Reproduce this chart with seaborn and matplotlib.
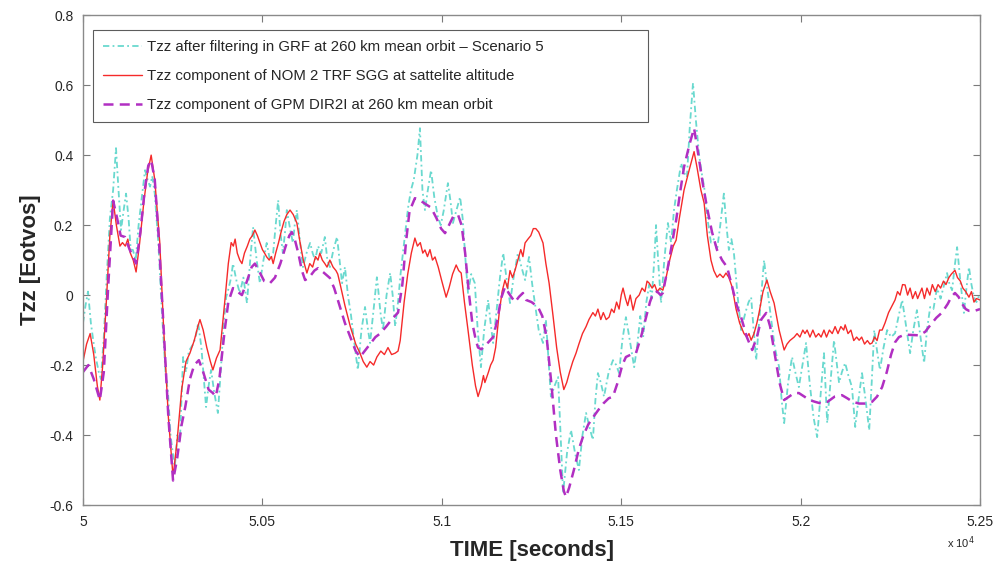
import numpy as np
import pandas as pd
import matplotlib
matplotlib.use("Agg")
import matplotlib.pyplot as plt
import seaborn as sns

T0 = 50000

# Tzz after filtering in GRF (Scenario 5) - time offsets [s] and values [Eotvos]
grf_t = [0, 7, 14, 22, 30, 36, 44, 50, 58, 66, 75, 84, 92, 99, 106, 113, 120, 127, 133, 139,
         147, 155, 164, 173, 180, 187, 193, 200, 210, 220, 230, 237, 244, 250, 256, 263, 270, 279, 287, 295,
         307, 314, 321, 330, 337, 343, 350, 357, 366, 376, 385, 392, 399, 406, 413, 418, 428, 437, 447, 457,
         466, 474, 484, 493, 503, 512, 521, 530, 537, 544, 550, 557, 563, 568, 577, 585, 590, 596, 605, 613,
         623, 633, 640, 647, 655, 664, 674, 681, 688, 698, 708, 715, 722, 730, 739, 746, 752, 759, 766, 776,
         786, 793, 800, 810, 819, 822, 829, 836, 846, 856, 863, 870, 878, 885, 895, 906, 914, 922, 932, 939,
         946, 953, 961, 970, 979, 989, 997, 1005, 1017, 1024, 1031, 1040, 1051, 1058, 1066, 1073, 1082, 1092, 1100, 1109,
         1118, 1129, 1136, 1143, 1152, 1162, 1171, 1180, 1190, 1200, 1212, 1222, 1232, 1243, 1252, 1262, 1270, 1282, 1290, 1297,
         1304, 1314, 1324, 1331, 1338, 1349, 1360, 1371, 1382, 1392, 1402, 1412, 1421, 1428, 1435, 1443, 1452, 1465, 1477, 1486,
         1494, 1503, 1513, 1524, 1536, 1545, 1553, 1561, 1570, 1578, 1585, 1592, 1597, 1604, 1611, 1620, 1630, 1639, 1647, 1655,
         1667, 1675, 1683, 1691, 1700, 1708, 1717, 1724, 1731, 1740, 1750, 1758, 1767, 1776, 1786, 1793, 1800, 1807, 1814, 1824,
         1834, 1846, 1855, 1862, 1869, 1876, 1887, 1898, 1907, 1917, 1928, 1940, 1947, 1954, 1965, 1976, 1985, 1995, 2005, 2015,
         2025, 2036, 2046, 2056, 2065, 2074, 2083, 2093, 2100, 2107, 2115, 2124, 2133, 2143, 2152, 2161, 2171, 2181, 2191, 2198,
         2205, 2213, 2221, 2231, 2241, 2252, 2263, 2273, 2283, 2294, 2305, 2314, 2324, 2334, 2344, 2352, 2361, 2370, 2380, 2390,
         2400, 2408, 2415, 2422, 2429, 2436, 2445, 2455, 2462, 2469, 2476, 2483, 2490, 2500]
grf_v = [-0.08, -0.03, 0.01, -0.08, -0.14, -0.18, -0.22, -0.24, -0.12, 0.05, 0.22, 0.30, 0.42, 0.30, 0.186, 0.24, 0.29, 0.22, 0.13, 0.129,
         0.10, 0.20, 0.28, 0.357, 0.33, 0.31, 0.34, 0.29, 0.15, -0.05, -0.22, -0.28, -0.40, -0.45, -0.49, -0.40, -0.42, -0.177, -0.22, -0.16,
         -0.14, -0.12, -0.08, -0.15, -0.24, -0.32, -0.26, -0.214, -0.28, -0.337, -0.20, -0.08, -0.006, 0.02, 0.051, 0.09, 0.04, 0.006, 0.05, -0.023,
         0.10, 0.194, 0.10, 0.034, 0.10, 0.149, 0.10, 0.12, 0.20, 0.271, 0.18, 0.12, 0.18, 0.243, 0.19, 0.149, 0.20, 0.243, 0.15, 0.08,
         0.12, 0.149, 0.12, 0.10, 0.14, 0.12, 0.166, 0.10, 0.08, 0.13, 0.166, 0.10, 0.034, 0.08, -0.006, -0.05, -0.10, -0.16, -0.214, -0.10,
         -0.034, -0.09, -0.137, -0.04, 0.051, 0.023, -0.05, -0.10, 0.00, 0.063, 0.00, -0.09, -0.02, 0.06, 0.15, 0.25, 0.30, 0.33, 0.40, 0.477,
         0.30, 0.243, 0.30, 0.357, 0.28, 0.223, 0.20, 0.24, 0.32, 0.27, 0.206, 0.24, 0.28, 0.22, 0.10, 0.006, 0.06, 0.034, -0.10, -0.206,
         -0.10, -0.014, -0.08, -0.137, -0.05, 0.05, 0.12, 0.05, -0.023, 0.05, 0.12, 0.08, 0.043, 0.109, 0.03, -0.043, -0.10, -0.137, -0.07, -0.18,
         -0.29, -0.26, -0.234, -0.40, -0.566, -0.45, -0.386, -0.45, -0.50, -0.40, -0.337, -0.38, -0.414, -0.30, -0.223, -0.25, -0.29, -0.22, -0.186, -0.20,
         -0.223, -0.13, -0.063, -0.13, -0.206, -0.14, -0.06, -0.12, -0.02, 0.03, -0.01, 0.10, 0.20, 0.08, -0.023, 0.10, 0.206, 0.15, 0.243, 0.30,
         0.377, 0.35, 0.337, 0.48, 0.606, 0.50, 0.40, 0.35, 0.31, 0.22, 0.15, 0.16, 0.129, 0.20, 0.29, 0.20, 0.129, 0.16, 0.12, 0.00,
         -0.10, -0.05, -0.02, -0.006, -0.10, -0.186, -0.04, 0.10, 0.02, -0.063, -0.15, -0.206, -0.30, -0.366, -0.25, -0.177, -0.22, -0.263, -0.20, -0.137,
         -0.25, -0.35, -0.406, -0.28, -0.166, -0.366, -0.25, -0.129, -0.19, -0.251, -0.22, -0.194, -0.23, -0.263, -0.377, -0.30, -0.223, -0.30, -0.386, -0.25,
         -0.10, -0.16, -0.214, -0.15, -0.10, -0.12, -0.109, -0.06, -0.014, -0.09, -0.166, -0.10, -0.043, -0.12, -0.194, -0.10, -0.034, -0.04, 0.02, -0.01,
         0.03, 0.063, 0.03, 0.014, 0.08, 0.137, 0.04, -0.051, 0.02, 0.08, 0.03, -0.006, -0.02, 0.006]

# Tzz component of NOM 2 TRF SGG at satellite altitude
nom_t = [0, 10, 20, 30, 40, 47, 55, 65, 75, 84, 93, 103, 110, 118, 125, 132, 140, 148, 158, 170,
         180, 190, 200, 214, 225, 238, 251, 262, 275, 287, 298, 310, 320, 326, 335, 345, 355, 362, 372, 382,
         395, 405, 413, 419, 424, 430, 437, 443, 450, 458, 465, 472, 479, 486, 493, 500, 506, 512, 519, 525,
         530, 537, 545, 552, 560, 568, 577, 586, 596, 605, 614, 624, 632, 640, 648, 655, 660, 667, 674, 680,
         688, 697, 705, 710, 716, 730, 745, 760, 772, 781, 791, 800, 810, 819, 830, 840, 850, 860, 870, 878,
         884, 895, 905, 915, 925, 932, 940, 947, 953, 960, 967, 974, 981, 990, 1000, 1012, 1020, 1030, 1040, 1047,
         1054, 1063, 1073, 1085, 1094, 1101, 1110, 1116, 1120, 1130, 1136, 1143, 1150, 1160, 1168, 1176, 1183, 1190, 1197, 1204,
         1212, 1220, 1226, 1232, 1240, 1248, 1255, 1262, 1270, 1282, 1290, 1299, 1310, 1320, 1330, 1340, 1348, 1356, 1365, 1374,
         1382, 1392, 1402, 1410, 1421, 1428, 1435, 1443, 1450, 1458, 1466, 1473, 1480, 1487, 1494, 1500, 1505, 1512, 1518, 1525,
         1533, 1541, 1550, 1558, 1566, 1572, 1578, 1586, 1593, 1600, 1608, 1616, 1625, 1635, 1645, 1653, 1662, 1675, 1690, 1703,
         1712, 1722, 1731, 1740, 1750, 1758, 1767, 1775, 1784, 1792, 1800, 1809, 1820, 1830, 1842, 1850, 1856, 1862, 1870, 1878,
         1884, 1895, 1906, 1915, 1926, 1940, 1954, 1962, 1970, 1982, 1990, 1998, 2006, 2012, 2018, 2026, 2034, 2042, 2050, 2057,
         2065, 2072, 2080, 2088, 2096, 2104, 2112, 2120, 2124, 2132, 2140, 2148, 2156, 2163, 2170, 2178, 2186, 2193, 2199, 2206,
         2213, 2220, 2227, 2235, 2245, 2255, 2263, 2270, 2277, 2284, 2291, 2298, 2305, 2312, 2320, 2326, 2330, 2338, 2345, 2352,
         2360, 2367, 2375, 2383, 2390, 2398, 2405, 2413, 2420, 2430, 2437, 2445, 2452, 2460, 2469, 2476, 2483, 2490, 2500]
nom_v = [-0.19, -0.14, -0.11, -0.17, -0.26, -0.30, -0.20, -0.02, 0.17, 0.27, 0.20, 0.14, 0.15, 0.14, 0.16, 0.12, 0.10, 0.066, 0.15, 0.27,
         0.35, 0.40, 0.33, 0.15, -0.10, -0.35, -0.52, -0.42, -0.27, -0.19, -0.166, -0.13, -0.09, -0.07, -0.10, -0.15, -0.19, -0.214, -0.18, -0.157,
         -0.02, 0.09, 0.15, 0.14, 0.16, 0.12, 0.10, 0.09, 0.12, 0.14, 0.16, 0.17, 0.186, 0.17, 0.15, 0.13, 0.12, 0.109, 0.10, 0.11,
         0.09, 0.12, 0.15, 0.18, 0.21, 0.23, 0.243, 0.23, 0.206, 0.15, 0.10, 0.063, 0.09, 0.08, 0.11, 0.10, 0.12, 0.10, 0.09, 0.08,
         0.10, 0.08, 0.07, 0.06, 0.034, -0.03, -0.09, -0.14, -0.166, -0.19, -0.206, -0.19, -0.20, -0.177, -0.16, -0.17, -0.15, -0.17, -0.166, -0.16,
         -0.13, -0.02, 0.06, 0.12, 0.163, 0.14, 0.15, 0.12, 0.129, 0.11, 0.13, 0.10, 0.109, 0.08, 0.04, -0.006, 0.02, 0.06, 0.086, 0.07,
         0.063, -0.02, -0.10, -0.20, -0.26, -0.29, -0.26, -0.23, -0.25, -0.22, -0.20, -0.186, -0.15, -0.05, 0.01, 0.043, 0.02, 0.07, 0.05, 0.071,
         0.10, 0.13, 0.11, 0.149, 0.16, 0.17, 0.19, 0.19, 0.18, 0.149, 0.09, 0.034, -0.06, -0.15, -0.22, -0.27, -0.25, -0.22, -0.19, -0.166,
         -0.14, -0.11, -0.09, -0.07, -0.05, -0.06, -0.04, -0.07, -0.05, -0.07, -0.063, -0.04, -0.05, -0.02, -0.04, 0.00, 0.02, -0.01, -0.03, 0.00,
         -0.043, -0.01, 0.00, 0.02, 0.01, 0.04, 0.034, 0.02, 0.03, 0.01, 0.02, 0.014, 0.05, 0.10, 0.14, 0.157, 0.22, 0.30, 0.36, 0.41,
         0.36, 0.30, 0.263, 0.17, 0.10, 0.07, 0.051, 0.06, 0.05, 0.063, 0.05, 0.023, -0.04, -0.08, -0.11, -0.12, -0.11, -0.129, -0.11, -0.08,
         -0.051, 0.01, 0.043, 0.01, -0.023, -0.10, -0.157, -0.14, -0.13, -0.12, -0.11, -0.12, -0.10, -0.11, -0.10, -0.12, -0.10, -0.12, -0.11, -0.12,
         -0.10, -0.12, -0.10, -0.11, -0.09, -0.11, -0.09, -0.10, -0.085, -0.11, -0.10, -0.13, -0.12, -0.129, -0.12, -0.14, -0.13, -0.14, -0.137, -0.12,
         -0.13, -0.10, -0.10, -0.08, -0.05, -0.03, -0.014, 0.01, 0.00, 0.03, 0.029, 0.00, 0.02, -0.01, 0.01, -0.01, 0.00, 0.02, -0.01, 0.02,
         0.00, 0.03, 0.01, 0.03, 0.02, 0.04, 0.03, 0.05, 0.06, 0.071, 0.05, 0.04, 0.02, 0.01, -0.006, 0.01, -0.02, -0.01, -0.014]

# Tzz component of GPM DIR2I at 260 km mean orbit
gpm_t = [0, 15, 30, 47, 58, 70, 84, 95, 105, 117, 130, 148, 160, 172, 182, 190, 200, 212, 225, 238,
         251, 262, 275, 285, 298, 310, 323, 335, 350, 362, 370, 380, 395, 405, 418, 430, 443, 457, 470, 479,
         490, 505, 521, 535, 550, 565, 575, 582, 590, 600, 610, 619, 630, 645, 655, 670, 688, 700, 715, 730,
         745, 760, 772, 785, 800, 815, 828, 845, 860, 878, 890, 900, 910, 925, 940, 955, 970, 985, 998, 1009,
         1020, 1032, 1045, 1055, 1065, 1075, 1085, 1095, 1101, 1110, 1125, 1143, 1155, 1165, 1176, 1190, 1204, 1215, 1226, 1235,
         1250, 1268, 1280, 1292, 1305, 1318, 1330, 1340, 1346, 1355, 1368, 1382, 1395, 1408, 1421, 1435, 1450, 1465, 1477, 1490,
         1503, 1513, 1527, 1541, 1555, 1570, 1580, 1589, 1600, 1610, 1616, 1630, 1642, 1653, 1665, 1675, 1690, 1703, 1715, 1727,
         1739, 1753, 1767, 1781, 1795, 1810, 1822, 1834, 1850, 1865, 1878, 1890, 1904, 1915, 1928, 1941, 1954, 1968, 1982, 1995,
         2010, 2025, 2040, 2057, 2075, 2095, 2115, 2130, 2145, 2163, 2180, 2199, 2213, 2227, 2240, 2252, 2263, 2274, 2290, 2311,
         2330, 2347, 2362, 2378, 2394, 2410, 2420, 2430, 2440, 2450, 2460, 2469, 2485, 2500]
gpm_v = [-0.22, -0.20, -0.24, -0.30, -0.22, 0.02, 0.27, 0.22, 0.17, 0.166, 0.13, 0.09, 0.18, 0.30, 0.37, 0.386, 0.33, 0.15, -0.10, -0.35,
         -0.53, -0.47, -0.37, -0.32, -0.24, -0.20, -0.186, -0.22, -0.27, -0.28, -0.29, -0.24, -0.10, -0.02, 0.02, 0.01, 0.00, 0.04, 0.08, 0.09,
         0.07, 0.04, 0.034, 0.05, 0.09, 0.14, 0.17, 0.18, 0.16, 0.12, 0.07, 0.043, 0.05, 0.07, 0.077, 0.065, 0.049, 0.02, -0.03, -0.08,
         -0.12, -0.16, -0.177, -0.16, -0.14, -0.12, -0.11, -0.09, -0.07, -0.05, 0.03, 0.15, 0.24, 0.277, 0.27, 0.26, 0.25, 0.22, 0.19, 0.177,
         0.20, 0.225, 0.23, 0.20, 0.12, 0.01, -0.08, -0.13, -0.15, -0.155, -0.14, -0.12, -0.07, -0.01, 0.023, 0.00, -0.02, -0.005, 0.006, -0.014,
         -0.02, -0.034, -0.06, -0.12, -0.25, -0.40, -0.50, -0.56, -0.577, -0.55, -0.50, -0.44, -0.40, -0.37, -0.35, -0.33, -0.31, -0.295, -0.29, -0.25,
         -0.20, -0.177, -0.17, -0.166, -0.12, -0.06, -0.02, 0.006, 0.01, 0.00, 0.006, 0.08, 0.15, 0.214, 0.30, 0.366, 0.43, 0.477, 0.40, 0.32,
         0.25, 0.18, 0.129, 0.10, 0.08, 0.02, -0.03, -0.063, -0.12, -0.157, -0.12, -0.07, -0.051, -0.09, -0.17, -0.25, -0.30, -0.29, -0.28, -0.28,
         -0.29, -0.30, -0.305, -0.31, -0.305, -0.29, -0.286, -0.295, -0.305, -0.31, -0.31, -0.305, -0.29, -0.263, -0.22, -0.17, -0.135, -0.12, -0.113, -0.114,
         -0.115, -0.105, -0.085, -0.065, -0.05, -0.025, -0.005, 0.006, -0.005, -0.025, -0.04, -0.045, -0.045, -0.04]

labels = [
    "Tzz after filtering in GRF at 260 km mean orbit \u2013 Scenario 5",
    "Tzz component of NOM 2 TRF SGG at sattelite altitude",
    "Tzz component of GPM DIR2I at 260 km mean orbit",
]
xtick_vals = [50000, 50500, 51000, 51500, 52000, 52500]
xtick_labels = ["5", "5.05", "5.1", "5.15", "5.2", "5.25"]
ytick_vals = [-0.6, -0.4, -0.2, 0, 0.2, 0.4, 0.6, 0.8]
ytick_labels = ["-0.6", "-0.4", "-0.2", "0", "0.2", "0.4", "0.6", "0.8"]

sns.set_style("ticks")
plt.rcParams["font.family"] = ["Liberation Sans", "DejaVu Sans"]

fig = plt.figure(figsize=(9.95, 5.62), dpi=100)
ax = fig.add_axes([0.0834, 0.1014, 0.9016, 0.8716])

grf = pd.DataFrame({"t": np.array(grf_t) + T0, "v": grf_v})
nom = pd.DataFrame({"t": np.array(nom_t) + T0, "v": nom_v})
gpm = pd.DataFrame({"t": np.array(gpm_t) + T0, "v": gpm_v})

sns.lineplot(data=grf, x="t", y="v", ax=ax, color="#6ad9cf", lw=1.3,
             linestyle=(0, (3.5, 1.8, 1, 1.8)), sort=False, estimator=None, label=labels[0])
sns.lineplot(data=nom, x="t", y="v", ax=ax, color="#f52a2a", lw=1.0,
             sort=False, estimator=None, label=labels[1])
sns.lineplot(data=gpm, x="t", y="v", ax=ax, color="#b12fc2", lw=1.8,
             linestyle=(0, (4, 2.5)), sort=False, estimator=None, label=labels[2])

ax.set_xlim(50000, 52500)
ax.set_ylim(-0.6, 0.8)
ax.set_xticks(xtick_vals)
ax.set_xticklabels(xtick_labels)
ax.set_yticks(ytick_vals)
ax.set_yticklabels(ytick_labels)
ax.tick_params(direction="in", top=True, right=True, length=5, width=0.8,
               color="#7a7a7a", labelsize=10, pad=7)
for sp in ax.spines.values():
    sp.set_color("#8a8a8a")
    sp.set_linewidth(1.0)

ax.set_xlabel("TIME [seconds]", fontsize=16, fontweight="bold", labelpad=8)
ax.set_ylabel("Tzz [Eotvos]", fontsize=16, fontweight="bold", labelpad=6)
fig.text(0.952, 0.02, "x 10$^{4}$", fontsize=8, ha="left", va="bottom")

leg = ax.legend(loc="upper left", bbox_to_anchor=(0.0111, 0.0, 0.619, 0.969),
                mode="expand", borderaxespad=0, fontsize=10.8, frameon=True,
                fancybox=False, edgecolor="#333333", handlelength=2.6,
                labelspacing=1.0, borderpad=0.65, handletextpad=0.35)
leg.get_frame().set_linewidth(0.8)

fig.savefig("out.png", dpi=100)
